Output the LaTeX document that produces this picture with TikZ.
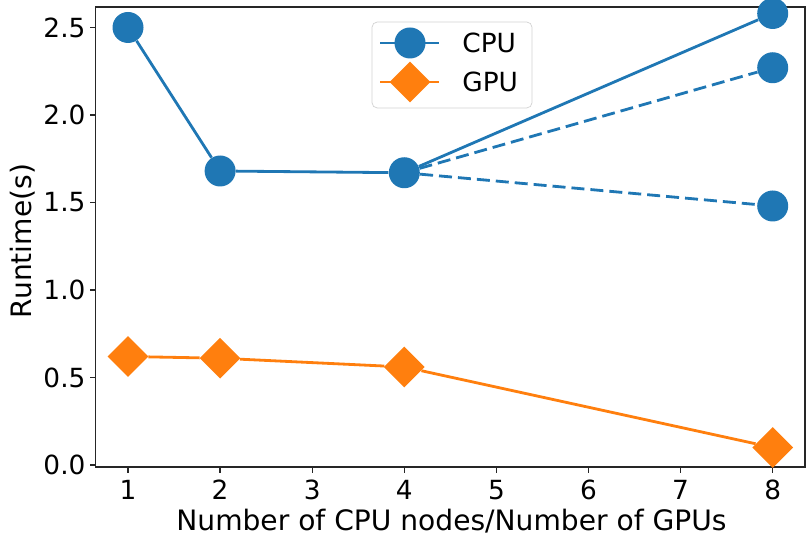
\documentclass[tikz,border=0pt]{standalone}
\usepackage{fontspec}
\setmainfont{DejaVu Sans}
\usetikzlibrary{positioning}
\usetikzlibrary{shapes.geometric}
\definecolor{cpublue}{HTML}{1F77B4}
\definecolor{gpuorange}{HTML}{FF7F0E}

\begin{document}
\begin{tikzpicture}[
		font=\fontsize{15}{18}\selectfont,
		cpudot/.style={circle,fill=cpublue,inner sep=0pt,minimum size=0.62cm},
		gpudot/.style={diamond,fill=gpuorange,inner sep=0pt,minimum size=0.82cm},
		cpuline/.style={cpublue,line width=1.6pt},
		gpuline/.style={gpuorange,line width=1.6pt},
		dashline/.style={cpuline,dash pattern=on 0.26cm off 0.12cm},
		frameline/.style={line width=0.8pt,black!85},
		axlabel/.style={font=\fontsize{16}{19}\selectfont},
	]
		\useasboundingbox (0,0) rectangle (16.2,10.72);
		
		\begin{scope}[shift={(0.718,1.42)},x=1.842cm,y=3.5cm]
		% axes
		\draw[frameline] (0.65,-0.011) rectangle (8.35,2.617);
		\foreach \t in {1,...,8}{
			\draw[frameline] (\t,-0.011) -- ++(0,-0.12cm);
			\node (xt\t) at (\t,-0.011) [yshift=-0.46cm] {\t};
		}
		\foreach \v in {0.0,0.5,1.0,1.5,2.0,2.5}{
			\draw[frameline] (0.65,\v) -- ++(-0.12cm,0);
			\node (yt\v) at (0.65,\v) [anchor=east,xshift=-0.2cm,inner sep=0pt] {\v};
		}
		
		% CPU
		\node[cpudot] (c1) at (1,2.5) {};
		\node[cpudot] (c2) at (2,1.68) {};
		\node[cpudot] (c4) at (4,1.67) {};
		\node[cpudot] (c8a) at (8,2.58) {};
		\node[cpudot] (c8b) at (8,2.27) {};
		\node[cpudot] (c8c) at (8,1.48) {};
		\draw[cpuline] (c1) -- (c2);
		\draw[cpuline] (c2) -- (c4);
		\draw[cpuline] (c4) -- (c8a);
		\draw[dashline] (c4) -- (c8b);
		\draw[dashline] (c4) -- (c8c);
		
		% GPU
		\node[gpudot] (g1) at (1,0.62) {};
		\node[gpudot] (g2) at (2,0.61) {};
		\node[gpudot] (g4) at (4,0.56) {};
		\node[gpudot] (g8) at (8,0.1) {};
		\draw[gpuline] (g1) -- (g2);
		\draw[gpuline] (g2) -- (g4);
		\draw[gpuline] (g4) -- (g8);
		\end{scope}
		
		% labels
		\node[axlabel] (xlab) at (9.03,0.29) {Number of CPU nodes/Number of GPUs};
		\node[axlabel,rotate=90] (ylab) at (0.45,5.9) {Runtime(s)};
		
		% legend
		\draw[gray!35,fill=white,rounded corners=3pt] (7.44,8.56) rectangle (10.64,10.28);
		\coordinate (lc1) at (7.6,9.86);
		\coordinate (lc2) at (8.78,9.86);
		\coordinate (lg1) at (7.6,9.08);
		\coordinate (lg2) at (8.78,9.08);
		\draw[cpuline] (lc1) -- (lc2);
		\draw[gpuline] (lg1) -- (lg2);
		\node[cpudot] (lcpu) at (8.2,9.86) {};
		\node[gpudot] (lgpu) at (8.2,9.08) {};
		\node[anchor=west,inner sep=0pt] (tcpu) at (9.24,9.86) {CPU};
		\node[anchor=west,inner sep=0pt] (tgpu) at (9.24,9.08) {GPU};
	\end{tikzpicture}
\end{document}
